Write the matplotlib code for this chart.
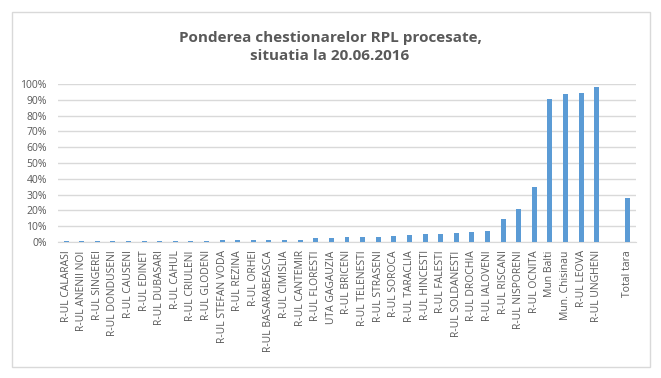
import numpy as np
import matplotlib
matplotlib.use("Agg")
import matplotlib.pyplot as plt
from matplotlib.patches import Rectangle
from matplotlib.ticker import PercentFormatter

# Raion names in chart order (blank slot before the national total)
regions = [
    "R-UL CALARASI", "R-UL ANENII NOI", "R-UL SINGEREI", "R-UL DONDUSENI",
    "R-UL CAUSENI", "R-UL EDINET", "R-UL DUBASARI", "R-UL CAHUL",
    "R-UL CRIULENI", "R-UL GLODENI", "R-UL STEFAN VODA", "R-UL REZINA",
    "R-UL ORHEI", "R-UL BASARABEASCA", "R-UL CIMISLIA", "R-UL CANTEMIR",
    "R-UL FLORESTI", "UTA GAGAUZIA", "R-UL BRICENI", "R-UL TELENESTI",
    "R-UL STRASENI", "R-UL SOROCA", "R-UL TARACLIA", "R-UL HINCESTI",
    "R-UL FALESTI", "R-UL SOLDANESTI", "R-UL DROCHIA", "R-UL IALOVENI",
    "R-UL RISCANI", "R-UL NISPORENI", "R-UL OCNITA", "Mun Balti",
    "Mun. Chisinau", "R-UL LEOVA", "R-UL UNGHENI", "", "Total tara",
]
# share of processed questionnaires (fraction); None = empty slot
shares = [
    0.005, 0.005, 0.005, 0.005, 0.005, 0.005, 0.005, 0.005, 0.005, 0.005,
    0.012, 0.012, 0.012, 0.012, 0.012, 0.012, 0.025, 0.025, 0.032, 0.032,
    0.032, 0.038, 0.044, 0.051, 0.051, 0.057, 0.063, 0.070, 0.146, 0.209,
    0.349, 0.907, 0.939, 0.945, 0.983, None, 0.279,
]

GREY = "#595959"
plt.rcParams["font.family"] = ["Open Sans", "DejaVu Sans"]

fig = plt.figure(figsize=(6.61, 3.78), dpi=100)
fig.patches.append(Rectangle((12 / 661, 1 - 367 / 378), 638 / 661, 355 / 378,
                             transform=fig.transFigure, fill=False,
                             edgecolor="#d9d9d9", linewidth=1))

ax = fig.add_axes([58 / 661, 1 - 242 / 378, 578 / 661, 158 / 378])
x = np.arange(len(regions))
vals = [v if v is not None else 0 for v in shares]
ax.bar(x, vals, width=0.32, color="#5b9bd5", zorder=3)

ax.set_xlim(-0.52, len(regions) - 0.48)
ax.set_ylim(0, 1.0)
ax.set_yticks(np.arange(0, 1.01, 0.1))
ax.yaxis.set_major_formatter(PercentFormatter(1.0, decimals=0))
ax.grid(axis="y", color="#d9d9d9", linewidth=1, zorder=0)
ax.set_xticks(x)
ax.set_xticklabels(regions, rotation=90, fontsize=7.5, color=GREY)
ax.tick_params(axis="y", labelsize=7.5, colors=GREY, length=0, pad=8)
ax.tick_params(axis="x", length=0, pad=6)
for s in ["top", "right", "left"]:
    ax.spines[s].set_visible(False)
ax.spines["bottom"].set_color("#d9d9d9")

fig.text(330 / 661, 1 - 47 / 378,
         "Ponderea chestionarelor RPL procesate,\nsituatia la 20.06.2016",
         ha="center", va="center", fontsize=11, fontweight="bold",
         color=GREY, linespacing=1.45)

fig.savefig("out.png", dpi=100)
